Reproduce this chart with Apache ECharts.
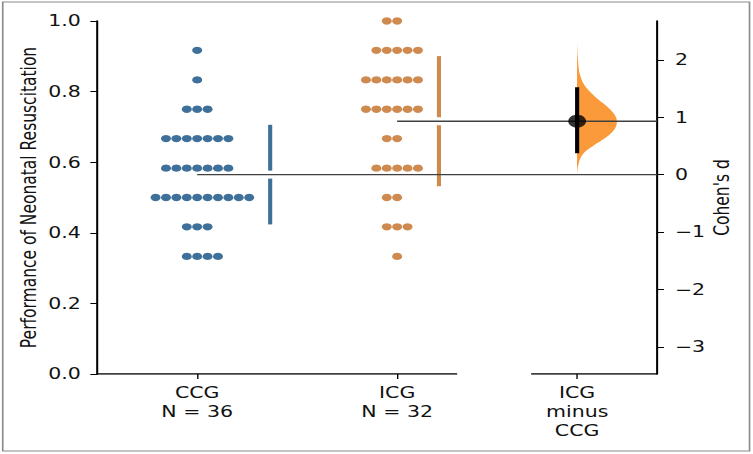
<!DOCTYPE html>
<html>
<head>
<meta charset="utf-8">
<script src="https://cdn.jsdelivr.net/npm/echarts@6/dist/echarts.min.js"></script>
<style>
html, body { margin: 0; padding: 0; background: #fff; overflow: hidden; }
/* figure was exported horizontally stretched, so draw narrow and scale x */
#main { width: 550px; height: 454px; transform: scaleX(1.369); transform-origin: 0 0; }
</style>
</head>
<body>
<div id="main"></div>
<script>
// raw scores per group
var groupNames = ['CCG', 'ICG'];
var ccgScores = [
	0.917, 0.833, 0.75, 0.75, 0.75,
	0.667, 0.667, 0.667, 0.667, 0.667, 0.667, 0.667,
	0.583, 0.583, 0.583, 0.583, 0.583, 0.583, 0.583,
	0.5, 0.5, 0.5, 0.5, 0.5, 0.5, 0.5, 0.5, 0.5, 0.5,
	0.417, 0.417, 0.417,
	0.333, 0.333, 0.333, 0.333
];
var icgScores = [
	1.0, 1.0,
	0.917, 0.917, 0.917, 0.917, 0.917,
	0.833, 0.833, 0.833, 0.833, 0.833, 0.833,
	0.75, 0.75, 0.75, 0.75, 0.75, 0.75,
	0.667, 0.667,
	0.583, 0.583, 0.583, 0.583, 0.583,
	0.5, 0.5,
	0.417, 0.417, 0.417,
	0.333
];
// effect size (Cohen's d) with 95% CI and bootstrap density
var effectName = 'ICG\nminus\nCCG';
var cohenD = 0.93;
var cohenCI = [0.37, 1.52];
var bootD = [0.0, 0.1, 0.2, 0.3, 0.4, 0.5, 0.6, 0.7, 0.8, 0.9, 1.0, 1.1, 1.2, 1.3, 1.4, 1.5, 1.6, 1.7, 1.8, 1.95, 2.1, 2.3];
var bootDensity = [0, 0.01, 0.04, 0.09, 0.2, 0.4, 0.62, 0.82, 0.95, 1.0, 0.98, 0.88, 0.73, 0.55, 0.39, 0.25, 0.15, 0.09, 0.05, 0.025, 0.01, 0];
var rightTicks = [-3, -2, -1, 0, 1, 2];

var colors = ['#3e7099', '#cf8a4f'];
var violinColor = '#fb9a3a';
var font = 'DejaVu Sans';

// layout on the x value axis
var xPos = [1, 2];
var xDelta = 2.9;
var xMin = 0.5, xMax = 3.3;
var axisBreak = [2.3, 2.67];
var dotStep = 0.052;
var barGap = 0.105;

function mean(a) {
	var s = 0;
	for (var i = 0; i < a.length; i++) s += a[i];
	return s / a.length;
}
function sd(a) {
	var m = mean(a), s = 0;
	for (var i = 0; i < a.length; i++) s += (a[i] - m) * (a[i] - m);
	return Math.sqrt(s / (a.length - 1));
}
// simple swarm: equal values spread sideways, first extra dot goes to `side`
function swarm(values, x0, side) {
	var seen = {}, pts = [], maxOff = 0;
	for (var i = 0; i < values.length; i++) {
		var k = seen[values[i]] || 0;
		seen[values[i]] = k + 1;
		var off = k === 0 ? 0 : (k % 2 === 1 ? side * Math.ceil(k / 2) : -side * (k / 2));
		maxOff = Math.max(maxOff, off);
		pts.push([x0 + off * dotStep, values[i]]);
	}
	return { points: pts, maxOff: maxOff };
}

var groups = [ccgScores, icgScores];
var sides = [1, -1];
var stats = groups.map(function(g, i) {
	var sw = swarm(g, xPos[i], sides[i]);
	return {
		points: sw.points,
		barX: xPos[i] + sw.maxOff * dotStep + barGap,
		mean: mean(g),
		sd: sd(g),
		n: g.length
	};
});

// right axis aligned so that d=0 sits on CCG mean and d=cohenD on ICG mean
var k = (stats[1].mean - stats[0].mean) / cohenD;
var rMin = (0 - stats[0].mean) / k;
var rMax = (1 - stats[0].mean) / k;

var xLabels = {};
xLabels[xPos[0]] = groupNames[0] + '\nN = ' + stats[0].n;
xLabels[xPos[1]] = groupNames[1] + '\nN = ' + stats[1].n;
xLabels[xDelta] = effectName;

var myChart = echarts.init(document.getElementById('main'), null, { renderer: 'svg' });

var series = [];
stats.forEach(function(s, i) {
	series.push({
		name: groupNames[i],
		type: 'scatter',
		data: s.points,
		symbolSize: 7.3,
		itemStyle: { color: colors[i], opacity: 1 },
		z: 3
	});
});
// mean +/- sd with a gap at the mean
series.push({
	type: 'custom',
	data: stats.map(function(s) { return [s.barX, s.mean, s.sd]; }),
	renderItem: function(params, api) {
		var x = api.value(0), m = api.value(1), d = api.value(2);
		var top = api.coord([x, m + d]);
		var mid = api.coord([x, m]);
		var bot = api.coord([x, m - d]);
		var c = colors[params.dataIndex];
		return {
			type: 'group',
			children: [
				{ type: 'line', shape: { x1: top[0], y1: top[1], x2: mid[0], y2: mid[1] - 4 }, style: { stroke: c, lineWidth: 3 } },
				{ type: 'line', shape: { x1: mid[0], y1: mid[1] + 4, x2: bot[0], y2: bot[1] }, style: { stroke: c, lineWidth: 3 } }
			]
		};
	},
	z: 3
});
// reference lines from each group mean to the right axis
stats.forEach(function(s, i) {
	series.push({
		type: 'line',
		data: [[xPos[i], s.mean], [xMax, s.mean]],
		symbol: 'none',
		lineStyle: { color: '#404040', width: 1.4 },
		silent: true,
		z: 4
	});
});
// bootstrap distribution (half violin)
series.push({
	type: 'custom',
	yAxisIndex: 1,
	data: [[xDelta, cohenD]],
	renderItem: function(params, api) {
		var pts = [];
		for (var i = 0; i < bootD.length; i++) {
			var p = api.coord([xDelta, bootD[i]]);
			pts.push([p[0] + bootDensity[i] * 29, p[1]]);
		}
		return { type: 'polygon', shape: { points: pts, smooth: 0.3 }, style: { fill: violinColor } };
	},
	z: 2
});
// CI bar and point estimate
series.push({
	type: 'line',
	yAxisIndex: 1,
	data: [[xDelta, cohenCI[0]], [xDelta, cohenCI[1]]],
	symbol: 'none',
	lineStyle: { color: '#000', width: 3 },
	z: 5
});
series.push({
	type: 'scatter',
	yAxisIndex: 1,
	data: [[xDelta, cohenD]],
	symbolSize: 13,
	itemStyle: { color: '#000' },
	z: 6
});
// broken x axis line
[[xMin, axisBreak[0]], [axisBreak[1], xMax]].forEach(function(seg) {
	series.push({
		type: 'line',
		data: [[seg[0], 0], [seg[1], 0]],
		symbol: 'none',
		lineStyle: { color: '#000', width: 1.5 },
		silent: true,
		z: 4
	});
});

var option = {
	animation: false,
	backgroundColor: '#fff',
	graphic: [{
		type: 'rect',
		shape: { x: 2, y: 2, width: 545.5, height: 449 },
		style: { fill: 'none', stroke: '#8a8a8a', lineWidth: 1.2 },
		silent: true
	}],
	grid: { left: 71, right: 70, top: 21, bottom: 80 },
	xAxis: {
		type: 'value',
		min: xMin,
		max: xMax,
		axisLine: { show: false },
		splitLine: { show: false },
		axisTick: { show: true, length: 5, customValues: [xPos[0], xPos[1], xDelta], lineStyle: { color: '#000' } },
		axisLabel: {
			customValues: [xPos[0], xPos[1], xDelta],
			formatter: function(v) {
				for (var key in xLabels) {
					if (Math.abs(+key - v) < 1e-6) return xLabels[key];
				}
				return '';
			},
			color: '#111',
			fontFamily: font,
			fontSize: 15,
			lineHeight: 19,
			margin: 9
		}
	},
	yAxis: [{
		type: 'value',
		min: 0,
		max: 1,
		interval: 0.2,
		name: 'Performance of Neonatal Resuscitation',
		nameLocation: 'middle',
		nameGap: 42,
		nameMoveOverlap: false,
		nameTextStyle: { color: '#111', fontFamily: font, fontSize: 15.5 },
		axisLine: { show: true, lineStyle: { color: '#000', width: 1.5 } },
		axisTick: { show: true, length: 5, lineStyle: { color: '#000' } },
		axisLabel: {
			formatter: function(v) { return v.toFixed(1); },
			color: '#111',
			fontFamily: font,
			fontSize: 15,
			margin: 12
		},
		splitLine: { show: false }
	}, {
		type: 'value',
		position: 'right',
		min: rMin,
		max: rMax,
		name: "Cohen's d",
		nameLocation: 'middle',
		nameRotate: 90,
		nameGap: 39,
		nameMoveOverlap: false,
		nameTextStyle: { color: '#111', fontFamily: font, fontSize: 15.5 },
		axisLine: { show: true, lineStyle: { color: '#000', width: 1.5 } },
		axisTick: { show: true, length: 5, customValues: rightTicks, lineStyle: { color: '#000' } },
		axisLabel: {
			customValues: rightTicks,
			formatter: function(v) { return v < 0 ? '\u2212' + Math.abs(v) : String(v); },
			color: '#111',
			fontFamily: font,
			fontSize: 15,
			margin: 13
		},
		splitLine: { show: false }
	}],
	series: series
};
myChart.setOption(option);
</script>
</body>
</html>
